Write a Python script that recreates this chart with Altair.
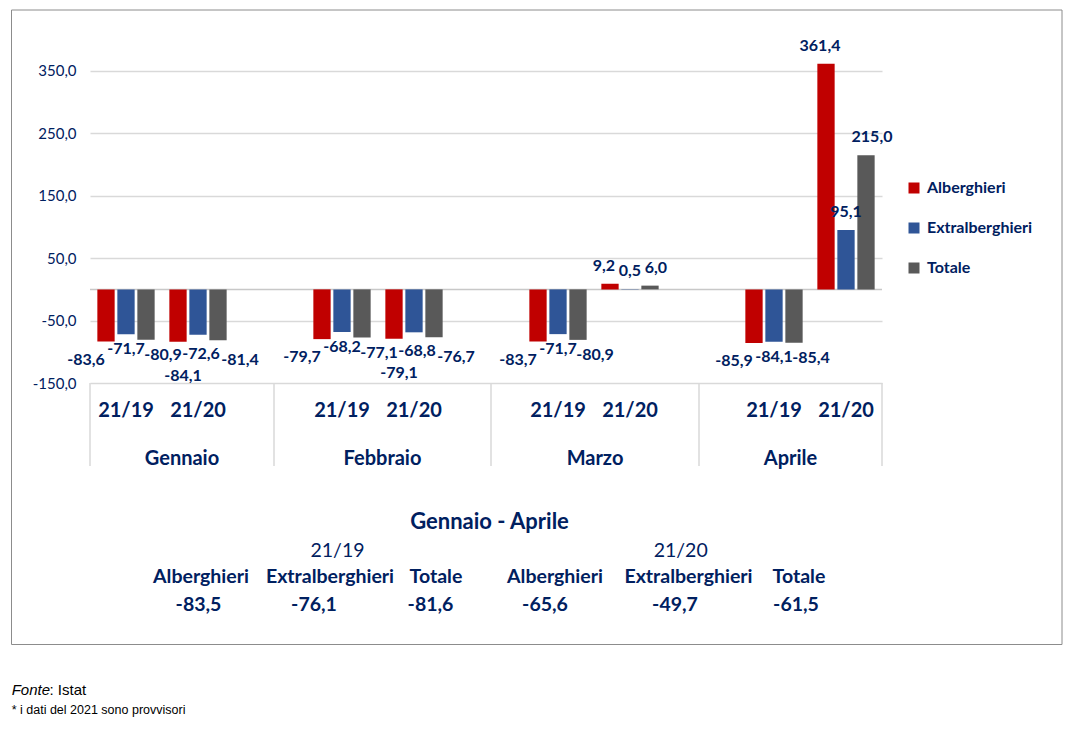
import altair as alt
import pandas as pd

# ---------------- data ----------------
months = ["Gennaio", "Febbraio", "Marzo", "Aprile"]
periods = ["21/19", "21/20"]
series = ["Alberghieri", "Extralberghieri", "Totale"]
colors = ["#C00000", "#2F5597", "#595959"]

# order: Gen 21/19, Gen 21/20, Feb 21/19, Feb 21/20, Mar 21/19, Mar 21/20, Apr 21/19, Apr 21/20
alberghieri = [-83.6, -84.1, -79.7, -79.1, -83.7, 9.2, -85.9, 361.4]
extralberghieri = [-71.7, -72.6, -68.2, -68.8, -71.7, 0.5, -84.1, 95.1]
totale = [-80.9, -81.4, -77.1, -76.7, -80.9, 6.0, -85.4, 215.0]

y_ticks = [-150, -50, 50, 150, 250, 350]

summary_title = "Gennaio - Aprile"
summary_periods = ["21/19", "21/20"]
summary_2119 = [-83.5, -76.1, -81.6]
summary_2120 = [-65.6, -49.7, -61.5]

source_label = "Fonte"
source_rest = ": Istat"
footnote = "* i dati del 2021 sono provvisori"

NAVY = "#002060"
FONT = "Lato"


def fmt(v):
    return f"{v:.1f}".replace(".", ",")


# ---------------- tables ----------------
cats = [f"{m} {p}" for m in months for p in periods]
cat_domain = []
for i, m in enumerate(months):
    cat_domain += [f"{m} {p}" for p in periods]
    if i < len(months) - 1:
        cat_domain.append(f"gap{i}")

rows = []
for s, vals in zip(series, [alberghieri, extralberghieri, totale]):
    for c, v in zip(cats, vals):
        rows.append({"cat": c, "period": c.split(" ")[1], "series": s, "value": v, "label": fmt(v)})
df = pd.DataFrame(rows)

cat_df = pd.DataFrame({"cat": cats, "text": [p for m in months for p in periods]})

x_scale = alt.Scale(domain=cat_domain, paddingInner=1 / 6, paddingOuter=1 / 12)
xo_scale = alt.Scale(domain=series, paddingInner=0.135, paddingOuter=0.0675)
y_scale = alt.Scale(domain=[-150, 430], nice=False, zero=False)

X = alt.X("cat:N", scale=x_scale, axis=None)
XO = alt.XOffset("series:N", scale=xo_scale)
Y = alt.Y(
    "value:Q",
    scale=y_scale,
    stack=None,
    title=None,
    axis=alt.Axis(
        values=y_ticks,
        labelExpr="replace(replace(format(datum.value, '.1f'), '.', ','), '\u2212', '-')",
        grid=True,
        gridColor="#D9D9D9",
        gridWidth=1.5,
        domain=False,
        ticks=False,
        labelPadding=14,
        labelFont=FONT,
        labelFontSize=15,
        labelColor=NAVY,
    ),
)

base = alt.Chart(df)

bars = base.mark_bar().encode(
    x=X,
    xOffset=XO,
    y=Y,
    color=alt.Color(
        "series:N",
        scale=alt.Scale(domain=series, range=colors),
        legend=alt.Legend(
            title=None,
            orient="none",
            legendX=816,
            legendY=159,
            symbolType="square",
            symbolSize=121,
            symbolStrokeWidth=0,
            labelFont=FONT,
            labelFontSize=16,
            labelFontWeight="bold",
            labelColor=NAVY,
            rowPadding=24,
            labelOffset=5,
            padding=0,
        ),
    ),
)

zero_line = alt.Chart(pd.DataFrame({"z": [0]})).mark_rule(
    color="#C8C8C8", strokeWidth=1.5
).encode(y=alt.Y("z:Q", scale=y_scale))

txt_style = dict(font=FONT, fontSize=16, fontWeight="bold", color=NAVY, baseline="middle")

# positive labels above the bar, slightly fanned out by series
pos_dx = {"Alberghieri": -6, "Extralberghieri": 0, "Totale": 6}
pos_layers = []
for s in series:
    pos_layers.append(
        base.transform_filter(f"datum.value >= 0 && datum.series == '{s}'")
        .mark_text(dx=pos_dx[s], dy=-18, **txt_style)
        .encode(x=X, xOffset=XO, y=Y, text="label:N")
    )

# negative labels below the bar, staggered by series and period
neg_offsets = {
    ("21/19", "Alberghieri"): (-20, 18),
    ("21/19", "Extralberghieri"): (0, 15),
    ("21/19", "Totale"): (17, 15),
    ("21/20", "Alberghieri"): (5, 34),
    ("21/20", "Extralberghieri"): (3, 19),
    ("21/20", "Totale"): (22, 20),
}
neg_layers = []
for (p, s), (dx, dy) in neg_offsets.items():
    neg_layers.append(
        base.transform_filter(
            f"datum.value < 0 && datum.series == '{s}' && datum.period == '{p}'"
        )
        .mark_text(dx=dx, dy=dy, **txt_style)
        .encode(x=X, xOffset=XO, y=Y, text="label:N")
    )

# multi-level category axis
cat_labels = alt.Chart(cat_df).mark_text(
    font=FONT, fontSize=20, fontWeight="bold", color=NAVY, baseline="middle"
).encode(x=X, y=alt.value(390), text="text:N")

sep_x = [0, 184, 401, 609, 792]
separators = []
for sx in sep_x:
    separators.append(
        alt.Chart(pd.DataFrame({"k": [0]})).mark_rule(color="#D9D9D9", strokeWidth=1.5).encode(
            x=alt.value(sx), y=alt.value(362), y2=alt.value(445)
        )
    )

month_layers = []
for i, m in enumerate(months):
    cx = (sep_x[i] + sep_x[i + 1]) / 2
    month_layers.append(
        alt.Chart(pd.DataFrame({"t": [m]})).mark_text(
            font=FONT, fontSize=20, fontWeight="bold", color=NAVY, baseline="middle"
        ).encode(x=alt.value(cx), y=alt.value(438), text="t:N")
    )


def label(text, x, y, size, weight="bold", font=FONT, color=NAVY, align="center", style="normal",
          baseline="middle"):
    return alt.Chart(pd.DataFrame({"t": [text]})).mark_text(
        font=font, fontSize=size, fontWeight=weight, color=color, align=align,
        baseline=baseline, fontStyle=style
    ).encode(x=alt.value(x), y=alt.value(y), text="t:N")


# summary block
summary = [label(summary_title, 399.5, 500.5, 22)]
summary.append(label(summary_periods[0], 247.5, 529.5, 19.5, weight="normal"))
summary.append(label(summary_periods[1], 590.7, 529.5, 19.5, weight="normal"))
name_x = [111, 240, 346, 465, 598.5, 709]
val_x = [108.5, 224, 340.5, 455, 585, 706]
for i, s in enumerate(series + series):
    summary.append(label(s, name_x[i], 556, 19.5))
for i, v in enumerate(summary_2119 + summary_2120):
    summary.append(label(fmt(v), val_x[i], 583.5, 19.5))

# frame and sources
frame = alt.Chart(pd.DataFrame({"k": [0]})).mark_rect(
    fill=None, stroke="#8C8C8C", strokeWidth=1
).encode(x=alt.value(-78.5), x2=alt.value(972), y=alt.value(-11), y2=alt.value(623.5))

src = [
    label(source_label, -78.3, 674, 15, weight="normal", font="Liberation Sans", color="#000000",
          align="left", style="italic", baseline="alphabetic"),
    label(source_rest, -40.5, 674, 15, weight="normal", font="Liberation Sans", color="#000000",
          align="left", baseline="alphabetic"),
    label(footnote, -78.3, 693, 12.5, weight="normal", font="Liberation Sans", color="#000000",
          align="left", baseline="alphabetic"),
]

chart = alt.layer(
    frame, zero_line, bars, *pos_layers, *neg_layers, cat_labels, *separators, *month_layers,
    *summary, *src
).properties(
    width=792,
    height=362,
    padding={"left": 82, "top": 13, "right": 183, "bottom": 335},
    autosize=alt.AutoSizeParams(type="none"),
    background="white",
).configure_view(stroke=None)

chart.save("out.html", embed_options={"renderer": "svg", "actions": False})
